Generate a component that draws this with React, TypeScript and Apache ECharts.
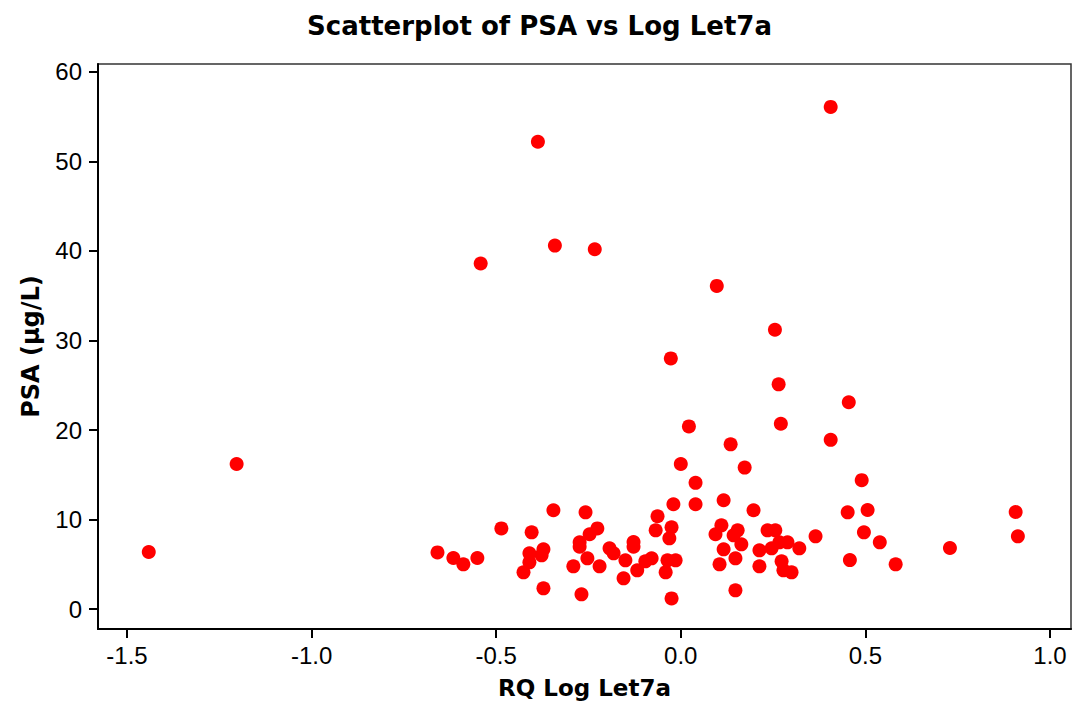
import React, { useEffect, useRef } from "react";
import * as echarts from "echarts";

const xValues: number[] = [
  -1.441, -1.203, -0.387, -0.542, -0.341, -0.233, 0.406, 0.0975, 0.255, -0.027,
  0.265, 0.455, 0.271, 0.022, 0.406, 0.135, 0.173, 0.0, 0.04, 0.49,
  0.04, -0.02, 0.116, 0.197, 0.506, 0.452, 0.907, 0.913, 0.365, 0.496,
  0.539, 0.458, 0.582, 0.729, -0.659, -0.616, -0.589, -0.551, -0.486, -0.345,
  -0.258, -0.404, -0.41, -0.372, -0.377, -0.41, -0.426, -0.372, -0.291, -0.274,
  -0.274, -0.253, -0.247, -0.226, -0.22, -0.269, -0.193, -0.182, -0.15, -0.155,
  -0.128, -0.128, -0.118, -0.063, -0.068, -0.025, -0.031, -0.096, -0.079, -0.036,
  -0.014, -0.041, -0.025, 0.11, 0.094, 0.154, 0.143, 0.164, 0.116, 0.105,
  0.148, 0.148, 0.235, 0.256, 0.213, 0.246, 0.267, 0.289, 0.321, 0.213,
  0.273, 0.278, 0.3,
];

const psaValues: number[] = [
  6.37, 16.2, 52.2, 38.6, 40.6, 40.2, 56.1, 36.1, 31.2, 28.0,
  25.1, 23.1, 20.7, 20.4, 18.9, 18.4, 15.8, 16.2, 14.1, 14.4,
  11.7, 11.7, 12.15, 11.03, 11.06, 10.8, 10.84, 8.12, 8.12, 8.57,
  7.45, 5.47, 4.99, 6.82, 6.33, 5.7, 4.99, 5.7, 9.01, 11.03,
  10.8, 8.57, 6.22, 6.67, 6.0, 5.22, 4.1, 2.31, 4.77, 7.45,
  6.96, 5.66, 8.35, 9.01, 4.77, 1.64, 6.78, 6.22, 5.44, 3.43,
  7.49, 6.96, 4.32, 10.36, 8.79, 9.13, 7.9, 5.33, 5.66, 5.44,
  5.44, 4.1, 1.19, 9.35, 8.35, 8.79, 8.23, 7.23, 6.67, 4.99,
  5.66, 2.09, 8.79, 8.79, 6.56, 6.78, 7.45, 7.45, 6.78, 4.77,
  5.33, 4.32, 4.1,
];

const xTicks: number[] = [-1.5, -1.0, -0.5, 0.0, 0.5, 1.0];
const yTicks: number[] = [0, 10, 20, 30, 40, 50, 60];

const BOLD_FONT = "DejaVu Sans";
const TICK_FONT = "Liberation Sans";

export default function App() {
  const ref = useRef<HTMLDivElement>(null);
  useEffect(() => {
    if (!ref.current) return;
    const chart = echarts.init(ref.current, undefined, { renderer: "svg" });
    const data = xValues.map((x, i) => [x, psaValues[i]]);
    chart.setOption({
      animation: false,
      backgroundColor: "#ffffff",
      title: {
        text: "Scatterplot of PSA vs Log Let7a",
        left: "center",
        top: 8,
        textStyle: { fontFamily: BOLD_FONT, fontWeight: "bold", fontSize: 26, color: "#000" },
      },
      grid: {
        left: 98,
        right: 8,
        top: 64,
        bottom: 82,
        show: true,
        borderColor: "#333",
        borderWidth: 1.5,
        backgroundColor: "transparent",
      },
      xAxis: {
        type: "value",
        min: -1.5785,
        max: 1.0569,
        name: "RQ Log Let7a",
        nameLocation: "middle",
        nameGap: 47,
        nameTextStyle: { fontFamily: BOLD_FONT, fontWeight: "bold", fontSize: 23, color: "#000" },
        splitLine: { show: false },
        axisLine: { show: true, onZero: false, lineStyle: { color: "#000", width: 2 } },
        axisTick: { show: true, length: 9, lineStyle: { color: "#000", width: 2 }, customValues: xTicks },
        axisLabel: {
          fontFamily: TICK_FONT,
          fontSize: 24,
          color: "#000",
          margin: 14,
          customValues: xTicks,
          formatter: (v: number) => v.toFixed(1),
        },
      },
      yAxis: {
        type: "value",
        min: -2.23,
        max: 60.89,
        name: "PSA (µg/L)",
        nameLocation: "middle",
        nameGap: 55,
        nameTextStyle: { fontFamily: BOLD_FONT, fontWeight: "bold", fontSize: 24, color: "#000" },
        splitLine: { show: false },
        axisLine: { show: true, onZero: false, lineStyle: { color: "#000", width: 2 } },
        axisTick: { show: true, length: 9, lineStyle: { color: "#000", width: 2 }, customValues: yTicks },
        axisLabel: {
          fontFamily: TICK_FONT,
          fontSize: 24,
          color: "#000",
          margin: 16,
          customValues: yTicks,
        },
      },
      series: [
        {
          type: "scatter",
          data,
          symbol: "circle",
          symbolSize: 14,
          itemStyle: { color: "#ff0000", opacity: 1 },
        },
      ],
    });
    return () => chart.dispose();
  }, []);
  return (
    <div
      ref={ref}
      style={{ position: "fixed", left: 0, top: 0, width: 1079, height: 711, background: "#fff" }}
    />
  );
}
